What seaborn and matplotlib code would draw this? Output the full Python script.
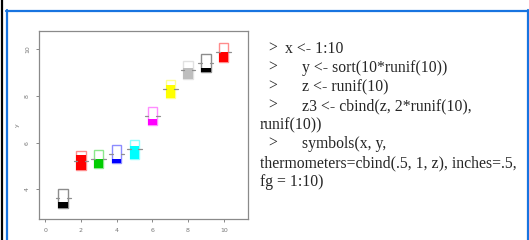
import matplotlib
matplotlib.use("Agg")
import matplotlib.pyplot as plt
from matplotlib.lines import Line2D
import seaborn as sns
import numpy as np
import pandas as pd

# ---- data ----
x_vals = [1, 2, 3, 4, 5, 6, 7, 8, 9, 10]
y_vals = [3.61, 5.23, 5.29, 5.50, 5.71, 7.13, 8.29, 9.10, 9.40, 9.86]
z_fill = [0.31, 0.80, 0.53, 0.25, 0.70, 0.33, 0.75, 0.60, 0.22, 0.51]
fg_colors = ["#000000", "#FF0000", "#00CD00", "#0000FF", "#00FFFF",
             "#FF00FF", "#FFFF00", "#BEBEBE", "#000000", "#FF0000"]
x_ticks = [0, 2, 4, 6, 8, 10]
y_ticks = [4, 6, 8, 10]
code_lines = [
    (">", "x <- 1:10"),
    (">", "y <- sort(10*runif(10))"),
    (">", "z <- runif(10)"),
    (">", "z3 <- cbind(z, 2*runif(10),"),
    ("", "runif(10))"),
    (">", "symbols(x, y,"),
    ("", "thermometers=cbind(.5, 1, z), inches=.5,"),
    ("", "fg = 1:10)"),
]

df = pd.DataFrame({"x": x_vals, "y": y_vals, "z": z_fill, "col": fg_colors})

sns.set_style("white")
W, H = 529, 240
fig = plt.figure(figsize=(W / 100, H / 100), dpi=100)

# axes placement (pixels)
L, R, T, B = 39, 248, 31, 219
ax = fig.add_axes([L / W, 1 - B / H, (R - L) / W, (B - T) / H])
ax.set_xlim(-0.35, 11.36)
ax.set_ylim(2.73, 10.78)

tw = 0.52   # thermometer width (data units)
th = 0.785  # thermometer height (data units)

bottoms = df["y"] - th / 2
# filled part
ax.bar(df["x"], df["z"] * th, bottom=bottoms, width=tw,
       color=df["col"], edgecolor="none", zorder=2)
# outline
for xi, bi, c in zip(df["x"], bottoms, df["col"]):
    ax.bar([xi], [th], bottom=[bi], width=tw, facecolor="none",
           edgecolor=c, alpha=0.45, linewidth=1.0, zorder=3)
# side ticks at mid-height
for xi, yi in zip(df["x"], df["y"]):
    ax.plot([xi - 0.8 * tw, xi - 0.42 * tw], [yi, yi], color="#8f8f8f", lw=0.9, zorder=4)
    ax.plot([xi + 0.42 * tw, xi + 0.8 * tw], [yi, yi], color="#8f8f8f", lw=0.9, zorder=4)

ax.set_xticks(x_ticks)
ax.set_yticks(y_ticks)
ax.set_xticklabels([str(t) for t in x_ticks], fontsize=4.5, color="#777777")
ax.set_yticklabels([str(t) for t in y_ticks], fontsize=4.5, color="#777777",
                   rotation=90, va="center")
ax.tick_params(axis="both", direction="out", length=2.5, width=0.7,
               color="#888888", pad=4, left=True, bottom=True)
for s in ax.spines.values():
    s.set_visible(True)
    s.set_color("#8a8a8a")
    s.set_linewidth(0.9)
ax.set_ylabel("y", fontsize=4.5, color="#777777", labelpad=4)
ax.set_xlabel("")

# frame decorations
blue = "#1874E0"
fig.add_artist(Line2D([1.5 / W, 1.5 / W], [0, 1], color="black", lw=1.6))
fig.add_artist(Line2D([6 / W, 1], [1 - 10.5 / H, 1 - 10.5 / H], color=blue, lw=1.6))
fig.add_artist(Line2D([6.5 / W, 6.5 / W], [0, 1 - 10 / H], color=blue, lw=1.6))
fig.add_artist(Line2D([527.5 / W, 527.5 / W], [0, 1 - 10 / H], color=blue, lw=1.6))

# code text
line_y0 = 49
dy = 19.0
fs = 11.3
for i, (p, t) in enumerate(code_lines):
    yy = 1 - (line_y0 + i * dy) / H
    if p:
        fig.text(268 / W, yy, p, fontsize=fs, family="Liberation Serif", va="center", ha="left")
        tx = 285 if i == 0 else 302
    else:
        tx = 260
    fig.text(tx / W, yy, t, fontsize=fs, family="Liberation Serif", va="center", ha="left")

fig.savefig("out.png", dpi=100)
